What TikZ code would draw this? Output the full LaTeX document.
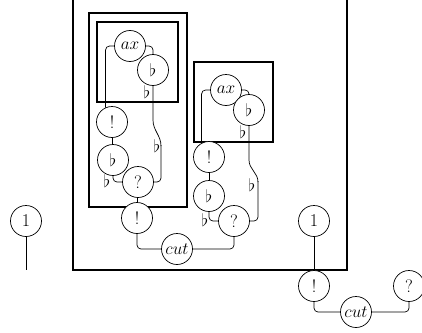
\documentclass[tikz,border=0pt]{standalone}
\begin{document}
\begin{tikzpicture}[x=1pt,y=-1pt,
  cnode/.style={circle,draw,fill=white,line width=0.7pt,minimum size=31pt,inner sep=0pt,font=\fontsize{18}{20}\selectfont},
  lbl/.style={inner sep=0pt,font=\fontsize{18}{20}\selectfont},
  wire/.style={line width=0.7pt,rounded corners=4pt},
  boxl/.style={line width=1.3pt}]
\useasboundingbox (0,0) rectangle (422,332);
% boxes
\draw[boxl] (73,0) -- (73,270) -- (347,270) -- (347,0);
\draw[boxl] (89,13) rectangle (187,207);
\draw[boxl] (97,22) rectangle (178,102);
\draw[boxl] (194,62) rectangle (273,142);
% left group nodes
\node[cnode] (ax1) at (130,46) {$ax$};
\node[cnode] (fl1) at (153,70) {$\flat$};
\node[cnode] (bang1) at (112,122) {!};
\node[cnode] (fl2) at (113,160) {$\flat$};
\node[cnode] (q1) at (138,182) {?};
\node[cnode] (bang3) at (137,218) {!};
\node[cnode] (cut1) at (177,249) {$cut$};
\node[lbl] (l1) at (147,92) {$\flat$};
\node[lbl] (l2) at (157,146) {$\flat$};
\node[lbl] (l3) at (107,181) {$\flat$};
% right group nodes
\node[cnode] (ax2) at (226,90) {$ax$};
\node[cnode] (fl3) at (249,110) {$\flat$};
\node[cnode] (bang2) at (209,157) {!};
\node[cnode] (fl4) at (209,196) {$\flat$};
\node[cnode] (q2) at (234,221) {?};
\node[lbl] (l4) at (243,132) {$\flat$};
\node[lbl] (l5) at (252,185) {$\flat$};
\node[lbl] (l6) at (205,220) {$\flat$};
% lone nodes
\node[cnode] (one1) at (26,221) {1};
\coordinate (end1) at (26,270);
\node[cnode] (one2) at (314,221) {1};
\node[cnode] (bang4) at (314,286) {!};
\node[cnode] (cut2) at (356,312) {$cut$};
\node[cnode] (q3) at (409,286) {?};
% wires left group
\draw[wire] (ax1.west) -| (bang1.114);
\draw[wire] (ax1.east) -| (fl1.north);
\draw[wire] (bang1) -- (fl2);
\draw[wire] (fl2.south) |- (q1.west);
\draw[line width=0.7pt] (fl1.south) -- (153,120) to[out=-90,in=90] (161,146);
\draw[wire] (161,145) |- (q1.east);
\draw[wire] (q1) -- (bang3);
\draw[wire] (bang3.south) |- (cut1.west);
\draw[wire] (cut1.east) -| (q2.south);
% wires right group
\draw[wire] (ax2.west) -| (bang2.118);
\draw[wire] (ax2.east) -| (fl3.north);
\draw[wire] (bang2) -- (fl4);
\draw[wire] (fl4.south) |- (q2.west);
\draw[line width=0.7pt] (fl3.south) -- (249,160) to[out=-90,in=90] (258,182);
\draw[wire] (258,181) |- (q2.east);
% lone wires
\draw[wire] (one1) -- (end1);
\draw[wire] (one2) -- (bang4);
\draw[wire] (bang4.south) |- (cut2.west);
\draw[wire] (cut2.east) -| (q3.south);
\end{tikzpicture}
\end{document}
